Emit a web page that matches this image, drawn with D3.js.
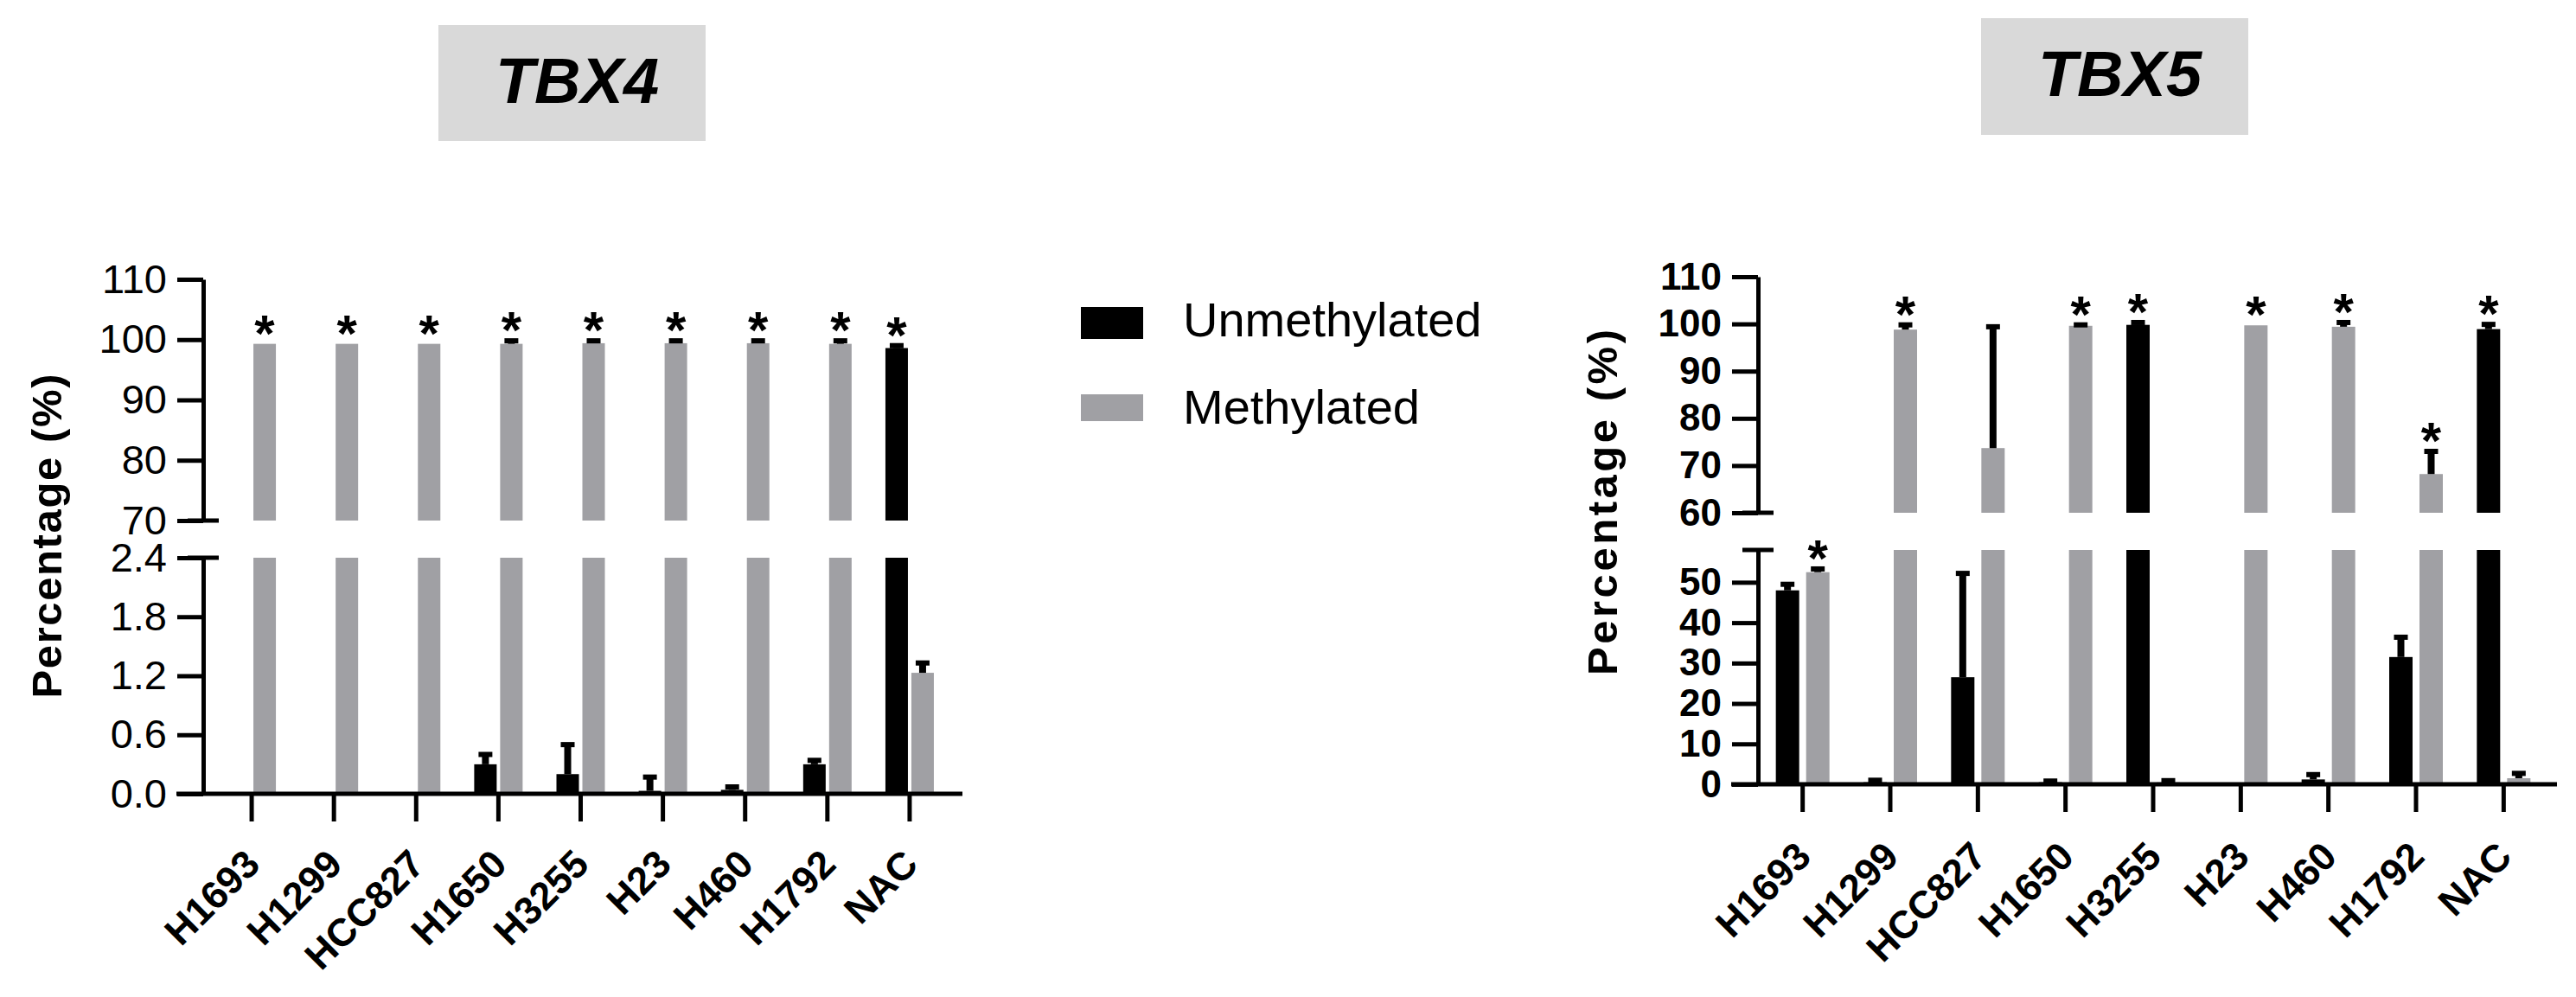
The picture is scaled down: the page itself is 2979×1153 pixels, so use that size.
<!DOCTYPE html>
<html>
<head>
<meta charset="utf-8">
<script src="https://cdn.jsdelivr.net/npm/d3@7"></script>
<style>
  body { margin: 0; background: #fff; }
  text { font-family: 'Liberation Sans', Arial, sans-serif; }
</style>
</head>
<body>
<script>
// cell lines on the x axis (same for both panels)
const categories = ['H1693', 'H1299', 'HCC827', 'H1650', 'H3255', 'H23', 'H460', 'H1792', 'NAC'];
const seriesNames = ['Unmethylated', 'Methylated'];

// TBX4, percentage, mean and SD
const tbx4Unmeth = [0, 0, 0, 0.30, 0.20, 0.03, 0.04, 0.30, 98.6];
const tbx4UnmethErr = [0, 0, 0, 0.10, 0.30, 0.14, 0.03, 0.04, 0.4];
const tbx4Meth = [99.3, 99.3, 99.3, 99.3, 99.4, 99.4, 99.4, 99.3, 1.23];
const tbx4MethErr = [0, 0, 0, 0.5, 0.4, 0.4, 0.4, 0.5, 0.1];
// which bar carries the significance star (U / M / none)
const tbx4Stars = ['M', 'M', 'M', 'M', 'M', 'M', 'M', 'M', 'U'];

// TBX5
const tbx5Unmeth = [48, 0.5, 26.5, 0.5, 99.8, 0, 1.2, 31.5, 98.9];
const tbx5UnmethErr = [1.5, 0.5, 25.7, 0.3, 0.5, 0, 1.2, 4.9, 1.0];
const tbx5Meth = [52.5, 98.8, 73.7, 99.6, 0.5, 99.7, 99.4, 68.2, 1.5];
const tbx5MethErr = [0.8, 1.0, 25.7, 0.2, 0.4, 0, 0.9, 4.8, 1.2];
const tbx5Stars = ['M', 'M', null, 'M', 'U', 'M', 'M', 'M', 'U'];

// axis ticks
const tbx4UpperTicks = [70, 80, 90, 100, 110];
const tbx4LowerTicks = [0, 0.6, 1.2, 1.8, 2.4];
const tbx5UpperTicks = [60, 70, 80, 90, 100, 110];
const tbx5LowerTicks = [0, 10, 20, 30, 40, 50];

const grey = '#a0a0a4';
const colors = { U: '#000', M: grey };

const svg = d3.select('body')
  .append('svg')
  .attr('width', 2979)
  .attr('height', 1153);

function drawChart(cfg) {
  const g = svg.append('g');

  const x = d3.scaleBand().domain(categories).range(cfg.xRange);
  const sub = d3.scaleBand().domain(['U', 'M']).range(cfg.subRange).paddingInner(cfg.subPad);
  const yUp = d3.scaleLinear().domain(cfg.upDomain).range(cfg.upRange);
  const yLow = d3.scaleLinear().domain(cfg.lowDomain).range(cfg.lowRange);
  const cx = c => x(c) + x.bandwidth() / 2;
  const lo = cfg.upDomain[0];
  const brk = cfg.lowDomain[1];
  const y0 = yLow(0);

  const rows = categories.flatMap((c, i) => [
    { c, key: 'U', v: cfg.unmeth[i], e: cfg.unmethErr[i], star: cfg.stars[i] === 'U' },
    { c, key: 'M', v: cfg.meth[i], e: cfg.methErr[i], star: cfg.stars[i] === 'M' },
  ]);

  // lower panel bars
  g.append('g')
    .selectAll('rect')
    .data(rows.filter(d => d.v > 0))
    .join('rect')
    .attr('x', d => cx(d.c) + sub(d.key))
    .attr('width', sub.bandwidth())
    .attr('y', d => yLow(Math.min(d.v, brk)))
    .attr('height', d => y0 - yLow(Math.min(d.v, brk)))
    .attr('fill', d => colors[d.key]);

  // upper panel bars
  g.append('g')
    .selectAll('rect')
    .data(rows.filter(d => d.v > lo))
    .join('rect')
    .attr('x', d => cx(d.c) + sub(d.key))
    .attr('width', sub.bandwidth())
    .attr('y', d => yUp(d.v))
    .attr('height', d => yUp(lo) - yUp(d.v))
    .attr('fill', d => colors[d.key]);

  const yOf = d => (d.v >= lo ? yUp : yLow);
  const mid = d => cx(d.c) + sub(d.key) + sub.bandwidth() / 2;

  // error bars (mean + SD)
  const err = g.append('g').selectAll('g').data(rows.filter(d => d.e > 0)).join('g');
  err.append('line')
    .attr('x1', mid).attr('x2', mid)
    .attr('y1', d => yOf(d)(d.v))
    .attr('y2', d => yOf(d)(d.v + d.e))
    .attr('stroke', '#000')
    .attr('stroke-width', 8);
  err.append('line')
    .attr('x1', d => mid(d) - 8).attr('x2', d => mid(d) + 8)
    .attr('y1', d => yOf(d)(d.v + d.e))
    .attr('y2', d => yOf(d)(d.v + d.e))
    .attr('stroke', '#000')
    .attr('stroke-width', 6);

  // stars
  g.append('g')
    .selectAll('text')
    .data(rows.filter(d => d.star))
    .join('text')
    .attr('x', mid)
    .attr('y', d => yOf(d)(d.v + d.e) - 26 + 34)
    .attr('text-anchor', 'middle')
    .attr('font-size', 60)
    .attr('font-weight', 'bold')
    .text('*');

  // y axes, two segments
  const styleAxis = sel => {
    sel.select('.domain').attr('stroke-width', 5);
    sel.selectAll('.tick line').attr('stroke-width', 5);
    sel.selectAll('.tick text')
      .attr('font-family', "'Liberation Sans', Arial, sans-serif")
      .attr('font-size', cfg.tickFont)
      .attr('font-weight', cfg.tickWeight)
      .attr('fill', '#000');
  };

  g.append('g')
    .attr('transform', `translate(${cfg.axisX},0)`)
    .call(d3.axisLeft(yUp).tickValues(cfg.upTicks).tickSize(30).tickSizeOuter(0).tickPadding(12))
    .call(styleAxis);

  g.append('g')
    .attr('transform', `translate(${cfg.axisX},0)`)
    .call(d3.axisLeft(yLow).tickValues(cfg.lowTicks).tickSize(30).tickSizeOuter(0).tickPadding(12)
      .tickFormat(cfg.lowFormat))
    .call(styleAxis);

  // break marks
  g.append('g')
    .selectAll('line')
    .data([yUp(lo), yLow(brk)])
    .join('line')
    .attr('x1', cfg.axisX - 18)
    .attr('x2', cfg.axisX + 18)
    .attr('y1', d => d)
    .attr('y2', d => d)
    .attr('stroke', '#000')
    .attr('stroke-width', 5);

  // x axis
  const xAxisG = g.append('g')
    .attr('transform', `translate(0,${y0})`)
    .call(d3.axisBottom(x).tickSize(32).tickSizeOuter(0));
  xAxisG.select('.domain').remove();
  xAxisG.selectAll('.tick line').attr('stroke-width', 5);
  xAxisG.selectAll('.tick text')
    .attr('y', null)
    .attr('dy', null)
    .attr('text-anchor', 'end')
    .attr('transform', `translate(12,${cfg.labelDrop}) rotate(-45)`)
    .attr('font-family', "'Liberation Sans', Arial, sans-serif")
    .attr('font-size', 45)
    .attr('font-weight', 'bold')
    .attr('fill', '#000');

  g.append('line')
    .attr('x1', cfg.baseRange[0])
    .attr('x2', cfg.baseRange[1])
    .attr('y1', y0)
    .attr('y2', y0)
    .attr('stroke', '#000')
    .attr('stroke-width', 5);

  // y label, stretched to the length it has in the figure
  g.append('text')
    .attr('transform', `translate(${cfg.labelX},${cfg.labelY}) rotate(-90)`)
    .attr('text-anchor', 'middle')
    .attr('font-size', 49)
    .attr('font-weight', 'bold')
    .attr('textLength', cfg.labelLength)
    .attr('lengthAdjust', 'spacing')
    .text('Percentage (%)');

  // gene title in grey box
  g.append('rect')
    .attr('x', cfg.titleBox[0])
    .attr('y', cfg.titleBox[1])
    .attr('width', cfg.titleBox[2])
    .attr('height', cfg.titleBox[3])
    .attr('fill', '#d9d9d9');
  g.append('text')
    .attr('x', cfg.titleBox[0] + cfg.titleBox[2] / 2 + 6)
    .attr('y', cfg.titleBaseline)
    .attr('text-anchor', 'middle')
    .attr('font-size', 74)
    .attr('font-weight', 'bold')
    .attr('font-style', 'italic')
    .text(cfg.title);
}

drawChart({
  title: 'TBX4',
  titleBox: [507, 29, 309, 134],
  titleBaseline: 119,
  unmeth: tbx4Unmeth, unmethErr: tbx4UnmethErr,
  meth: tbx4Meth, methErr: tbx4MethErr,
  stars: tbx4Stars,
  xRange: [243.5, 1099.5],
  subRange: [-28, 28], subPad: 0.133,
  upDomain: [70, 110], upRange: [602, 323],
  lowDomain: [0, 2.4], lowRange: [918, 645],
  upTicks: tbx4UpperTicks, lowTicks: tbx4LowerTicks,
  lowFormat: d3.format('.1f'),
  tickFont: 47, tickWeight: 'normal',
  axisX: 235,
  baseRange: [204, 1113],
  labelDrop: 84,
  labelX: 71, labelY: 620, labelLength: 375,
});

drawChart({
  title: 'TBX5',
  titleBox: [2291, 21, 309, 135],
  titleBaseline: 111,
  unmeth: tbx5Unmeth, unmethErr: tbx5UnmethErr,
  meth: tbx5Meth, methErr: tbx5MethErr,
  stars: tbx5Stars,
  xRange: [2034, 2946],
  subRange: [-31, 31], subPad: 0.229,
  upDomain: [60, 110], upRange: [593, 320],
  lowDomain: [0, 58], lowRange: [907, 636],
  upTicks: tbx5UpperTicks, lowTicks: tbx5LowerTicks,
  lowFormat: d3.format('d'),
  tickFont: 44, tickWeight: 'bold',
  axisX: 2033,
  baseRange: [2002, 2957],
  labelDrop: 86,
  labelX: 1870, labelY: 581, labelLength: 400,
});

// legend
const legend = svg.append('g');
const legendRows = legend.selectAll('g')
  .data(seriesNames)
  .join('g')
  .attr('transform', (d, i) => `translate(1250,${i === 0 ? 355 : 456})`);
legendRows.append('rect')
  .attr('width', 72)
  .attr('height', (d, i) => (i === 0 ? 37 : 31))
  .attr('fill', (d, i) => (i === 0 ? '#000' : grey));
legendRows.append('text')
  .attr('x', 118)
  .attr('y', 34)
  .attr('font-size', 56)
  .text(d => d);
</script>
</body>
</html>
